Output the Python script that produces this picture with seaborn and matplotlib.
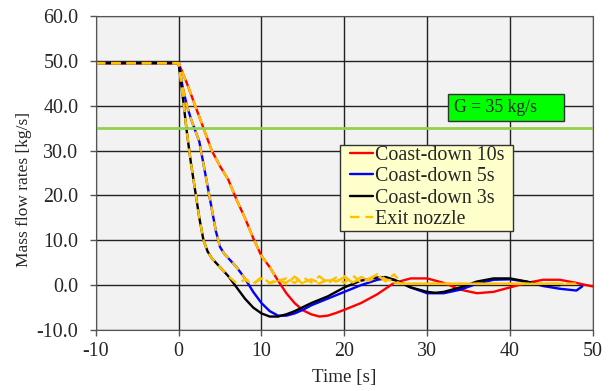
import numpy as np
import pandas as pd
import matplotlib
matplotlib.use("Agg")
import matplotlib.pyplot as plt
import matplotlib.patches as mpatches
import seaborn as sns

# Coast-down 10s
t_10 = [-10, 0, 1, 2, 3, 4, 5, 6, 7, 8, 9, 10, 11, 12, 13, 14, 15, 16, 17, 18, 19, 20,
        22, 24, 26, 28, 30, 32, 34, 36, 38, 40, 42, 44, 46, 48, 50]
m_10 = [49.5, 49.5, 45, 40, 35, 30, 26.5, 23.5, 19, 15, 10.5, 6.5, 4, 1, -1.8, -4, -5.6, -6.5, -7, -6.8, -6.2, -5.5,
        -4, -2, 0.5, 1.5, 1.5, 0.5, -1, -1.8, -1.5, -0.5, 0.5, 1.2, 1.2, 0.5, -0.3]

# Coast-down 5s
t_5 = [-10, 0, 0.5, 1, 1.5, 2, 2.5, 3, 3.5, 4, 4.5, 5, 5.5, 6, 7, 8, 9, 10, 11, 12, 13, 14, 15, 16, 18, 20,
       22, 24, 25, 26, 28, 30, 32, 34, 36, 38, 40, 42, 44, 46, 48, 48.7]
m_5 = [49.5, 49.5, 44, 40, 37, 34.5, 32, 27, 22, 17, 12, 8.5, 7, 6, 4, 1.5, -1.5, -4, -5.8, -6.8, -6.8, -6.3, -5.5, -4.5, -3, -1.5,
       0, 1.2, 1.5, 1.2, -0.5, -1.8, -1.8, -1, 0.3, 1.2, 1.3, 0.8, -0.2, -0.8, -1.2, -0.3]

# Coast-down 3s
t_3 = [-10, 0, 0.5, 1, 1.5, 2, 2.5, 3, 3.5, 4, 5, 6, 7, 8, 9, 10, 11, 12, 13, 14, 16, 18, 20,
       22, 24, 25, 26, 28, 30, 31, 32, 34, 36, 38, 40, 42, 44, 46]
m_3 = [49.5, 49.5, 42, 34, 27, 21, 15, 10, 7.5, 6, 4, 2, -0.5, -3, -5, -6.3, -7, -7, -6.5, -5.8, -4, -2.5, -0.5,
       1, 1.7, 1.8, 1.2, -0.5, -1.5, -1.7, -1.5, -0.5, 0.8, 1.5, 1.5, 0.8, 0, 0]

# Exit nozzle (one per case)
tx_10 = [-10, 0, 1, 2, 3, 4, 5, 6, 7, 8, 9, 10, 11, 12, 13, 14, 15, 16, 17, 18, 19, 20, 21, 22, 23, 24, 25, 26, 27, 30, 40, 48]
mx_10 = [49.5, 49.5, 45, 40, 35, 30, 26.5, 23.5, 19, 15, 10.5, 6.5, 4, 1, 1.5, 0.5, 1.8, 0.6, 2, 0.4, 1.7, 0.5, 2.2, 0.6, 1.5, 2.3, 0.8, 2.4, 0.3, 0.3, 0.3, 0.3]

tx_5 = [-10, 0, 0.5, 1, 1.5, 2, 2.5, 3, 3.5, 4, 4.5, 5, 5.5, 6, 7, 8, 9, 10, 11, 12, 13, 14, 15, 16, 17, 18, 19, 20, 21, 22, 23, 24, 25, 26, 27, 30, 40, 48]
mx_5 = [49.5, 49.5, 44, 40, 37, 34.5, 32, 27, 22, 17, 12, 8.5, 7, 6, 4, 1.5, 0.3, 1.8, 0.5, 1.4, 0.2, 1.9, 0.6, 1.2, 0.3, 1.6, 0.8, 2, 0.5, 1.8, 1.2, 2.5, 1.3, 0.9, 0.3, 0.3, 0.3, 0.3]

tx_3 = [-10, 0, 0.5, 1, 1.5, 2, 2.5, 3, 3.5, 4, 5, 6, 7, 8, 9, 10, 11, 12, 13, 14, 15, 16, 17, 18, 19, 20, 21, 22, 23, 24, 25, 26, 27, 30, 40, 46]
mx_3 = [49.5, 49.5, 42, 34, 27, 21, 15, 10, 7.5, 6, 4, 2, 0.4, 1.2, 0.2, 1.5, 0.4, 1.0, 0.6, 1.7, 0.3, 1.3, 0.5, 1.1, 0.7, 1.8, 0.6, 1.4, 1.0, 2.0, 1.2, 0.6, 0.3, 0.3, 0.3, 0.3]

G_level = 35

sns.set_style("whitegrid", {"axes.facecolor": "#f2f2f2", "grid.color": "#222222",
                            "axes.edgecolor": "#555555"})
plt.rcParams['font.family'] = ['Liberation Serif', 'DejaVu Serif']
plt.rcParams['axes.unicode_minus'] = False

fig = plt.figure(figsize=(6.1, 3.91), dpi=100)
ax = fig.add_axes([0.157, 0.156, 0.815, 0.803])

sns.lineplot(x=t_10, y=m_10, color="red", lw=1.7, ax=ax, label="Coast-down 10s")
sns.lineplot(x=t_5, y=m_5, color="blue", lw=1.7, ax=ax, label="Coast-down 5s")
sns.lineplot(x=t_3, y=m_3, color="black", lw=1.7, ax=ax, label="Coast-down 3s")
for i, (tx, mx) in enumerate([(tx_10, mx_10), (tx_5, mx_5), (tx_3, mx_3)]):
    sns.lineplot(x=tx, y=mx, color="#ffc000", lw=1.7, ax=ax,
                 label="Exit nozzle" if i == 0 else None, linestyle=(0, (4, 2.5)))

ax.axhline(G_level, color="#92d050", lw=2)
ax.text(33.2, 39.6, "G = 35 kg/s     ", fontsize=12.7, ha="left", va="center",
        bbox=dict(boxstyle="square,pad=0.3", facecolor="#00ff00", edgecolor="#333333", lw=1))

ax.set_xlim(-10, 50)
ax.set_ylim(-10, 60)
ax.set_xticks(range(-10, 51, 10))
ax.set_yticks(range(-10, 61, 10))
ax.set_yticklabels([f"{v:.1f}" for v in range(-10, 61, 10)])
ax.grid(True, lw=1)
ax.tick_params(axis="both", labelsize=14.4, direction="out", length=4.5, width=1,
               color="#555555", bottom=True, left=True)
ax.tick_params(axis="y", pad=8)
ax.tick_params(axis="x", pad=4)
ax.set_xlabel("Time [s]", fontsize=13.7)
ax.set_ylabel("Mass flow rates [kg/s]", fontsize=12.5)
ax.xaxis.set_label_coords(0.5, -0.125)
ax.yaxis.set_label_coords(-0.129, 0.446)

# legend frame drawn separately so the padding matches
ax.add_patch(mpatches.Rectangle((0.491, 0.315), 0.348, 0.274, transform=ax.transAxes,
                                facecolor="#ffffcc", edgecolor="#333333", lw=1, zorder=4.9))
leg = ax.legend(loc="upper left", bbox_to_anchor=(0.511, 0.586), borderaxespad=0,
                frameon=False, fontsize=14.4, handlelength=1.15, handletextpad=0.1,
                labelspacing=0.12, borderpad=0)

fig.savefig("out.png", dpi=100)
